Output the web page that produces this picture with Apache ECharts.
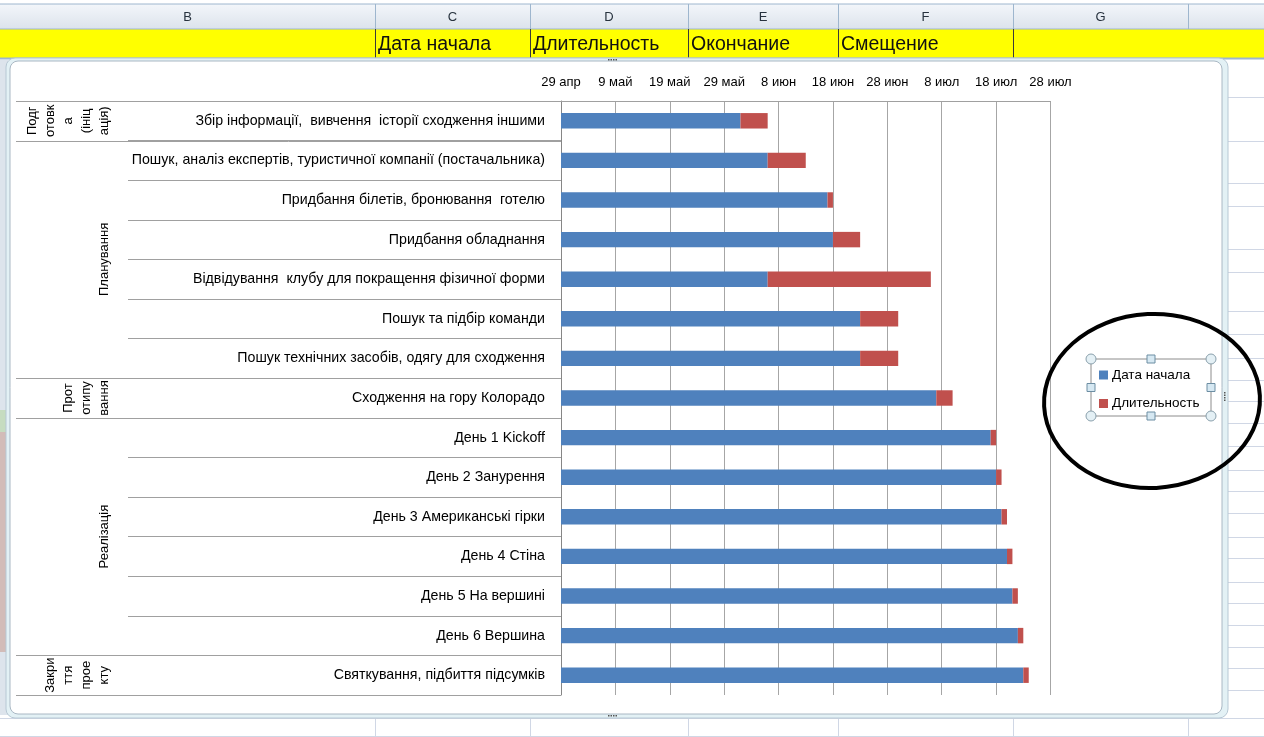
<!DOCTYPE html>
<html><head><meta charset="utf-8">
<script src="https://cdn.jsdelivr.net/npm/echarts@6/dist/echarts.min.js"></script>
<style>html,body{margin:0;padding:0;background:#fff}#c{width:1264px;height:737px}</style>
</head><body><div id="c"></div>
<script>
// ---- data ----
const tasks = [
  'Збір інформації,  вивчення  історії сходження іншими',
  'Пошук, аналіз експертів, туристичної компанії (постачальника)',
  'Придбання білетів, бронювання  готелю',
  'Придбання обладнання',
  'Відвідування  клубу для покращення фізичної форми',
  'Пошук та підбір команди',
  'Пошук технічних засобів, одягу для сходження',
  'Сходження на гору Колорадо',
  'День 1 Kickoff',
  'День 2 Занурення',
  'День 3 Американські гірки',
  'День 4 Стіна',
  'День 5 На вершині',
  'День 6 Вершина',
  'Святкування, підбиття підсумків'
];
const groupLabels = ['Подг\nотовк\nа\n(ініц\nація)', 'Планування', 'Прот\nотипу\nвання', 'Реалізація', 'Закри\nття\nпрое\nкту'];
const groupSizes = [1, 6, 1, 6, 1];
// days after 29 апр (axis minimum)
const startDays = [33, 38, 49, 50, 38, 55, 55, 69, 79, 80, 81, 82, 83, 84, 85];
const durations = [5, 7, 1, 5, 30, 7, 7, 3, 1, 1, 1, 1, 1, 1, 1];
const tickLabels = ['29 апр', '9 май', '19 май', '29 май', '8 июн', '18 июн', '28 июн', '8 июл', '18 июл', '28 июл'];
const seriesNames = ['Дата начала', 'Длительность'];
const columnLetters = ['B', 'C', 'D', 'E', 'F', 'G'];
const headerCells = ['', 'Дата начала', 'Длительность', 'Окончание', 'Смещение', ''];

// ---- sheet layout (decoration) ----
const colEdges = [0, 375, 530, 688, 838, 1013, 1188, 1264];
const FONT = '"Liberation Sans", Arial, sans-serif';

const chart = echarts.init(document.getElementById('c'), null, {renderer: 'canvas'});
const option = {
  animation: false,
  textStyle: {fontFamily: FONT},
  grid: {left: 561, top: 101, right: 213.5, bottom: 42, containLabel: false},
  legend: {
    orient: 'vertical', left: 1099, top: 368, padding: 0, itemWidth: 9, itemHeight: 9, itemGap: 14.5,
    icon: 'rect', data: seriesNames, selectedMode: false,
    textStyle: {fontSize: 13.5, color: '#000', fontFamily: FONT, padding: [0, 0, 0, -1]}
  },
  xAxis: {
    type: 'value', position: 'top', min: 0, max: 90, interval: 10,
    axisLine: {show: true, lineStyle: {color: '#a0a0a0', width: 1}},
    axisTick: {show: false},
    splitLine: {show: true, lineStyle: {color: '#a6a6a6', width: 1}},
    axisLabel: {formatter: v => tickLabels[Math.round(v / 10)], color: '#000', fontSize: 13, margin: 12, fontFamily: FONT}
  },
  yAxis: {
    type: 'category', inverse: true, data: tasks,
    axisLine: {show: true, lineStyle: {color: '#868686', width: 1}},
    axisTick: {show: true, length: 433, interval: 0, lineStyle: {color: '#a0a0a0', width: 1}},
    axisLabel: {interval: 0, color: '#000', fontSize: 14.2, margin: 16, fontFamily: FONT}
  },
  series: [
    {name: seriesNames[0], type: 'bar', stack: 'g', data: startDays, barWidth: '39%',
     itemStyle: {color: '#4f81bd'}},
    {name: seriesNames[1], type: 'bar', stack: 'g', data: durations, barWidth: '39%',
     itemStyle: {color: '#c0504d'}}
  ]
};
chart.setOption(option);

// ---- decorations computed via axis scale ----
const c0 = chart.convertToPixel({yAxisIndex: 0}, tasks[0]);
const c1 = chart.convertToPixel({yAxisIndex: 0}, tasks[1]);
const band = c1 - c0;
const boundary = i => c0 - band / 2 + i * band;
const plotLeft = chart.convertToPixel({xAxisIndex: 0}, 0);

const g = [];
// sheet header
g.push({type: 'rect', z: -20, shape: {x: 0, y: 0, width: 1264, height: 737}, style: {fill: '#ffffff'}});
g.push({type: 'rect', z: -19, shape: {x: 0, y: 4, width: 1264, height: 25},
  style: {fill: new echarts.graphic.LinearGradient(0, 0, 0, 1, [{offset: 0, color: '#f3f6fa'}, {offset: 1, color: '#dce3ec'}])}});
g.push({type: 'line', z: -18, shape: {x1: 0, y1: 4, x2: 1264, y2: 4}, style: {stroke: '#9eb6ce', lineWidth: 1}});
g.push({type: 'rect', z: -19, shape: {x: 0, y: 29, width: 1264, height: 30}, style: {fill: '#ffff00'}});
g.push({type: 'line', z: -18, shape: {x1: 0, y1: 29, x2: 1264, y2: 29}, style: {stroke: '#9eb6ce', lineWidth: 1}});
for (let i = 0; i < columnLetters.length; i++) {
  const x0 = colEdges[i], x1 = colEdges[i + 1];
  g.push({type: 'text', z: -17, style: {x: (x0 + x1) / 2, y: 17, text: columnLetters[i], fill: '#27323e',
    font: '13px ' + FONT, align: 'center', verticalAlign: 'middle'}});
  if (headerCells[i]) {
    g.push({type: 'text', z: -17, style: {x: x0 + 3, y: 45, text: headerCells[i], fill: '#111',
      font: '19.5px ' + FONT, align: 'left', verticalAlign: 'middle'}});
  }
}
for (let i = 1; i < colEdges.length - 1; i++) {
  const x = colEdges[i] + 0.5;
  g.push({type: 'line', z: -18, shape: {x1: x, y1: 4, x2: x, y2: 29}, style: {stroke: '#9eb6ce', lineWidth: 1}});
  if (i <= 5) g.push({type: 'line', z: -18, shape: {x1: x, y1: 29, x2: x, y2: 59}, style: {stroke: '#3a3a3a', lineWidth: 1}});
  g.push({type: 'line', z: -18, shape: {x1: x, y1: 716, x2: x, y2: 737}, style: {stroke: '#d0d7e5', lineWidth: 1}});
}
g.push({type: 'line', z: -18, shape: {x1: 0, y1: 58.5, x2: 1264, y2: 58.5}, style: {stroke: '#9eb6ce', lineWidth: 2}});
// sheet grid outside chart
[97, 141, 183, 206, 249, 272, 311, 334, 358, 380, 401, 423, 446, 470, 491, 513, 537, 558, 582, 603, 625, 647, 668, 690, 718, 736].forEach(y => {
  g.push({type: 'line', z: -18, shape: {x1: 1224, y1: y + 0.5, x2: 1264, y2: y + 0.5}, style: {stroke: '#d0d7e5', lineWidth: 1}});
});
g.push({type: 'line', z: -18, shape: {x1: 0, y1: 718.5, x2: 1264, y2: 718.5}, style: {stroke: '#d0d7e5', lineWidth: 1}});
g.push({type: 'line', z: -18, shape: {x1: 0, y1: 736.5, x2: 1264, y2: 736.5}, style: {stroke: '#d0d7e5', lineWidth: 1}});
g.push({type: 'rect', z: -18, shape: {x: 0, y: 60, width: 8, height: 655}, style: {fill: '#dde4ec'}});
g.push({type: 'rect', z: -18, shape: {x: 0, y: 410, width: 8, height: 22}, style: {fill: '#c6dcc0'}});
g.push({type: 'rect', z: -18, shape: {x: 0, y: 432, width: 8, height: 220}, style: {fill: '#d2bcb8'}});
// chart area
g.push({type: 'rect', z: -12, shape: {x: 6, y: 58, width: 1222, height: 660, r: 9},
  style: {fill: '#e3f1f5', stroke: '#b7c8d4', lineWidth: 1}});
g.push({type: 'rect', z: -11, shape: {x: 10, y: 61, width: 1212, height: 653, r: 8},
  style: {fill: '#ffffff', stroke: '#aab8c4', lineWidth: 1}});
// selection dots on chart frame
function dots(cx, cy, vertical) {
  for (let k = 0; k < 4; k++) {
    g.push({type: 'rect', z: -10, shape: vertical ? {x: cx - 1, y: cy - 4 + k * 2.5, width: 1.5, height: 1.5} : {x: cx - 4 + k * 2.5, y: cy - 1, width: 1.5, height: 1.5},
      style: {fill: '#555'}});
  }
}
dots(612, 60, false); dots(612, 716, false); dots(1225, 396, true);

// category group table
const groupLineX0 = 16;
let acc = 0;
const groupBounds = [0];
groupSizes.forEach(s => { acc += s; groupBounds.push(acc); });
groupBounds.forEach(b => {
  const y = Math.round(boundary(b)) + 0.5;
  g.push({type: 'line', z: 3, shape: {x1: groupLineX0, y1: y, x2: plotLeft, y2: y}, style: {stroke: '#a0a0a0', lineWidth: 1}});
});
for (let i = 0; i < groupLabels.length; i++) {
  const yc = (boundary(groupBounds[i]) + boundary(groupBounds[i + 1])) / 2;
  g.push({type: 'text', z: 3, x: 113, y: yc, rotation: Math.PI / 2,
    style: {x: 0, y: 0, text: groupLabels[i], fill: '#000', font: '13px ' + FONT, lineHeight: 18,
      align: 'center', verticalAlign: 'bottom'}});
}

// legend selection frame
const lf = {x: 1091, y: 359, w: 120, h: 57};
g.push({type: 'rect', z: 40, shape: {x: lf.x, y: lf.y, width: lf.w, height: lf.h}, style: {fill: 'none', stroke: '#8c8c8c', lineWidth: 1}});
[[lf.x, lf.y], [lf.x + lf.w, lf.y], [lf.x, lf.y + lf.h], [lf.x + lf.w, lf.y + lf.h]].forEach(p => {
  g.push({type: 'circle', z: 41, shape: {cx: p[0], cy: p[1], r: 5}, style: {fill: '#e4f0f5', stroke: '#8aa0ac', lineWidth: 1}});
});
[[lf.x + lf.w / 2, lf.y], [lf.x + lf.w / 2, lf.y + lf.h], [lf.x, lf.y + lf.h / 2], [lf.x + lf.w, lf.y + lf.h / 2]].forEach(p => {
  g.push({type: 'rect', z: 41, shape: {x: p[0] - 4, y: p[1] - 4, width: 8, height: 8}, style: {fill: '#d6e8f2', stroke: '#6d8ea3', lineWidth: 1}});
});
// hand-drawn ellipse
g.push({type: 'ellipse', z: 60, rotation: 0.05, originX: 1152, originY: 401,
  shape: {cx: 1152, cy: 401, rx: 108, ry: 87}, style: {fill: 'none', stroke: '#000', lineWidth: 4}});

chart.setOption({graphic: g});
</script>
</body></html>
